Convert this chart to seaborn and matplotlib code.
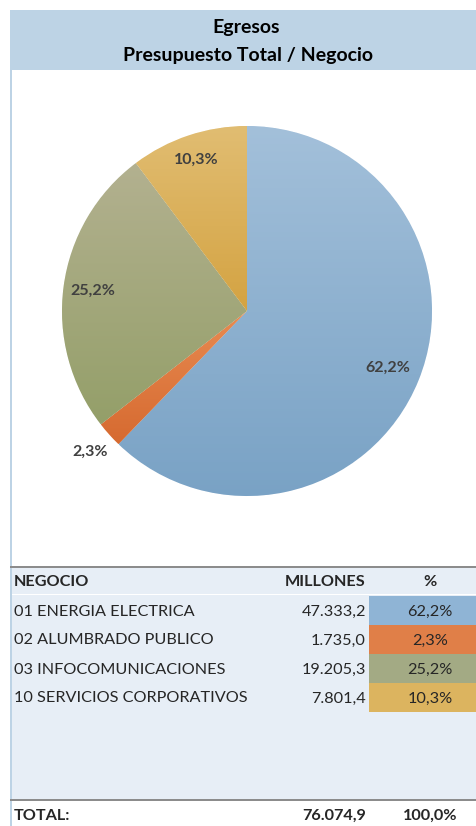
import numpy as np
import pandas as pd
import matplotlib
matplotlib.use("Agg")
import matplotlib.pyplot as plt
import seaborn as sns
from matplotlib.colors import LinearSegmentedColormap
from matplotlib.patches import Rectangle

# ---------------- data ----------------
negocios = ["01 ENERGIA ELECTRICA", "02 ALUMBRADO PUBLICO",
            "03 INFOCOMUNICACIONES", "10 SERVICIOS CORPORATIVOS"]
millones = [47333.2, 1735.0, 19205.3, 7801.4]
titulo = ["Egresos", "Presupuesto Total / Negocio"]
encabezados = ["NEGOCIO", "MILLONES", "%"]
total_label = "TOTAL:"

# ---------------- style ----------------
sns.set_theme(style="white")
plt.rcParams['font.family'] = ['Lato', 'DejaVu Sans']

mid_colors = sns.color_palette(["#8fb3d4", "#e07a3e", "#a2ab7e", "#dbb05a"])
light_colors = ["#a3c0da", "#e88b52", "#b3b190", "#e1bd72"]
dark_colors = ["#79a2c5", "#d66a30", "#949f69", "#d4a342"]
cell_colors = ["#8fb4d5", "#e07f48", "#a3aa84", "#dcb45f"]


def fmt_num(v, dec=1):
    s = f"{v:,.{dec}f}"
    return s.replace(",", "X").replace(".", ",").replace("X", ".")


df = pd.DataFrame({"negocio": negocios, "millones": millones})
df["pct"] = df["millones"] / df["millones"].sum() * 100

W, H = 476, 826
fig = plt.figure(figsize=(W / 100, H / 100), dpi=100)
fig.patch.set_facecolor("white")

bg = fig.add_axes([0, 0, 1, 1])
bg.set_xlim(0, W)
bg.set_ylim(H, 0)
bg.axis("off")

border = "#bdd3e5"
bg.add_patch(Rectangle((10, 10), 466, 60, color=border, lw=0))
bg.add_patch(Rectangle((10, 70), 2, 756, color=border, lw=0))
bg.add_patch(Rectangle((12, 567), 464, 232, color="#e7eef6", lw=0))
bg.add_patch(Rectangle((10, 565.5), 466, 2, color="#8c8c8c", lw=0))
bg.add_patch(Rectangle((12, 594), 464, 1.2, color="white", lw=0))
bg.add_patch(Rectangle((10, 798.5), 466, 2, color="#8c8c8c", lw=0))

bg.text(246, 27, titulo[0], ha="center", va="center", fontsize=14,
        fontweight="bold", color="black")
bg.text(248, 56, titulo[1], ha="center", va="center", fontsize=14,
        fontweight="bold", color="black")

# table
fs = 11.7
bg.text(14, 582, encabezados[0], ha="left", va="center", fontsize=fs, fontweight="bold")
bg.text(366, 582, encabezados[1], ha="right", va="center", fontsize=fs, fontweight="bold")
bg.text(430, 582, encabezados[2], ha="center", va="center", fontsize=fs, fontweight="bold")

row_top = 595.5
row_h = 29
for i, r in df.iterrows():
    y0 = row_top + i * row_h
    yc = y0 + row_h / 2 + 1.5
    bg.add_patch(Rectangle((369, y0), W - 369, row_h, color=cell_colors[i], lw=0))
    bg.text(14, yc, r["negocio"], ha="left", va="center", fontsize=fs)
    bg.text(366, yc, fmt_num(r["millones"]), ha="right", va="center", fontsize=fs)
    bg.text(430, yc, fmt_num(r["pct"]) + "%", ha="center", va="center", fontsize=fs)

bg.text(14, 816, total_label, ha="left", va="center", fontsize=fs, fontweight="bold")
bg.text(366, 816, fmt_num(df["millones"].sum()), ha="right", va="center",
        fontsize=fs, fontweight="bold")
bg.text(430, 816, fmt_num(df["pct"].sum()) + "%", ha="center", va="center",
        fontsize=fs, fontweight="bold")

# ---------------- pie ----------------
cx, cy, R = 247, 311, 185
pax = fig.add_axes([(cx - R) / W, 1 - (cy + R) / H, 2 * R / W, 2 * R / H])
wedges, _ = pax.pie(df["millones"], colors=mid_colors, startangle=90,
                    counterclock=False, radius=1,
                    wedgeprops=dict(edgecolor="white", linewidth=0.5))

for i, w in enumerate(wedges):
    verts = w.get_path().vertices
    x0, x1 = verts[:, 0].min(), verts[:, 0].max()
    y0, y1 = verts[:, 1].min(), verts[:, 1].max()
    cmap = LinearSegmentedColormap.from_list(f"g{i}", [dark_colors[i], light_colors[i]])
    grad = np.linspace(0, 1, 256).reshape(-1, 1)
    im = pax.imshow(grad, cmap=cmap, extent=[x0, x1, y0, y1], origin="lower",
                    aspect="auto", zorder=2)
    im.set_clip_path(w)

label_dist = [0.82, 1.14, 0.84, 0.86]
frac = df["millones"] / df["millones"].sum()
cum = np.cumsum(frac) - frac / 2
for i, (c, p) in enumerate(zip(cum, df["pct"])):
    ang = np.deg2rad(90 - c * 360)
    d = label_dist[i]
    pax.text(d * np.cos(ang), d * np.sin(ang), fmt_num(p) + "%", ha="center",
             va="center", fontsize=11.5, fontweight="bold", color="#404040",
             zorder=5, clip_on=False)

pax.set_xlim(-1, 1)
pax.set_ylim(-1, 1)
pax.set_aspect("auto")
pax.axis("off")

fig.savefig("out.png", dpi=100, facecolor="white")
